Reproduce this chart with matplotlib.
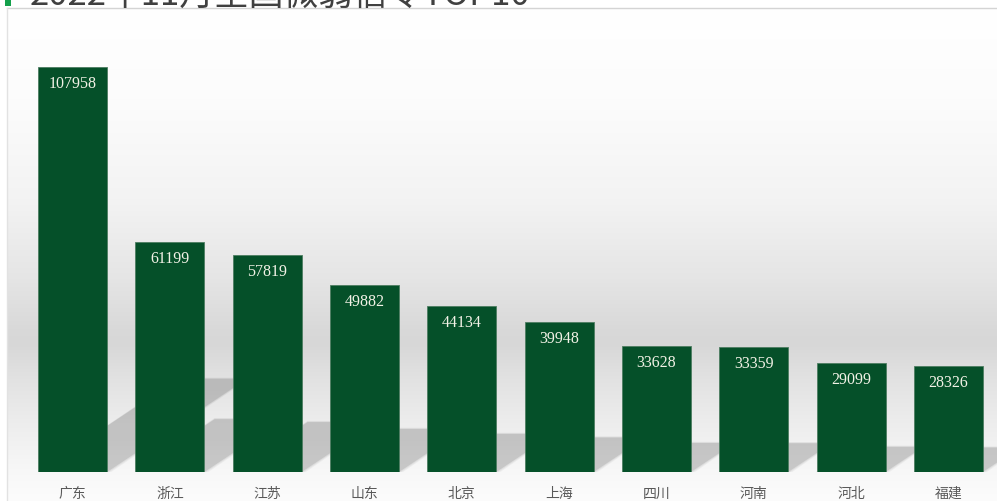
import numpy as np
import matplotlib
matplotlib.use("Agg")
import matplotlib.pyplot as plt
from matplotlib.patches import Polygon, Rectangle

plt.rcParams['font.family'] = ['Noto Sans CJK SC', 'DejaVu Sans']

provinces = ['广东', '浙江', '江苏', '山东', '北京', '上海', '四川', '河南', '河北', '福建']
values = [107958, 61199, 57819, 49882, 44134, 39948, 33628, 33359, 29099, 28326]
title = '2022年11月全国微弱信令TOP10'

W, H = 997, 502
fig = plt.figure(figsize=(W / 100, H / 100), dpi=100)
fig.patch.set_facecolor('white')

# backdrop: white at the top, grey band near the "horizon", lighter floor
bg = fig.add_axes([7 / W, 0, (W - 7) / W, (H - 9) / H])
ys = np.arange(9, H + 1)
stops_y = [9, 100, 200, 280, 330, 345, 380, 420, 470, 502]
stops_v = [255, 252, 243, 229, 217, 215, 226, 236, 247, 252]
g = np.interp(ys, stops_y, stops_v) / 255.0
img = np.repeat(g[:, None, None], 3, axis=2)
bg.imshow(img, aspect='auto', extent=[0, 1, 0, 1], interpolation='bilinear')
bg.set_axis_off()

# frame lines of the chart area
fig.add_artist(plt.Line2D([7 / W, 1], [1 - 9 / H, 1 - 9 / H], color='#d4d4d4', lw=1))
fig.add_artist(plt.Line2D([7 / W, 7 / W], [0, 1 - 9 / H], color='#e2e2e2', lw=1))

# title, mostly above the top edge
fig.add_artist(Rectangle((5 / W, 1 - 7 / H), 6 / W, 7 / H, transform=fig.transFigure,
                         color='#14a04b', lw=0))
fig.text(30 / W, 1 - 4.5 / H, title, fontsize=25, color='#404040', va='baseline', ha='left')

ax = fig.add_axes([24 / W, 29 / H, 973 / W, 433 / H])
ax.set_facecolor('none')
x = np.arange(len(provinces))
bw = 0.71
ax.set_xlim(-0.5, len(provinces) - 0.5)
ax.set_ylim(0, 115400)

# cast shadows, leaning up and to the right; stacked layers soften the edges
for xi, v in zip(x, values):
    dx = v * 1.33e-5
    dy = v * 0.23
    for grow, a in [(0.04, 0.08), (0.02, 0.1), (0.0, 0.2)]:
        gy = grow * 8000
        pts = [(xi - bw / 2, 0), (xi + bw / 2 + grow, 0),
               (xi + bw / 2 + dx + grow, dy + gy), (xi - bw / 2 + dx, dy + gy)]
        ax.add_patch(Polygon(pts, closed=True, facecolor='#6e6e6e', alpha=a, lw=0, zorder=1))

ax.bar(x, values, width=bw, color='#055029', edgecolor='#4d7d61', linewidth=0.6, zorder=3)

for xi, v in zip(x, values):
    ax.annotate(str(v), (xi, v), xytext=(0, -11.5), textcoords='offset points',
                ha='center', va='center', fontsize=11.5, color='#f2f2e6',
                family='Liberation Serif', zorder=4)

ax.set_xticks(x)
ax.set_xticklabels(provinces, fontsize=10, color='#595959')
ax.tick_params(axis='x', length=0, pad=10)
ax.set_yticks([])
for s in ax.spines.values():
    s.set_visible(False)

fig.savefig('out.png', dpi=100)
